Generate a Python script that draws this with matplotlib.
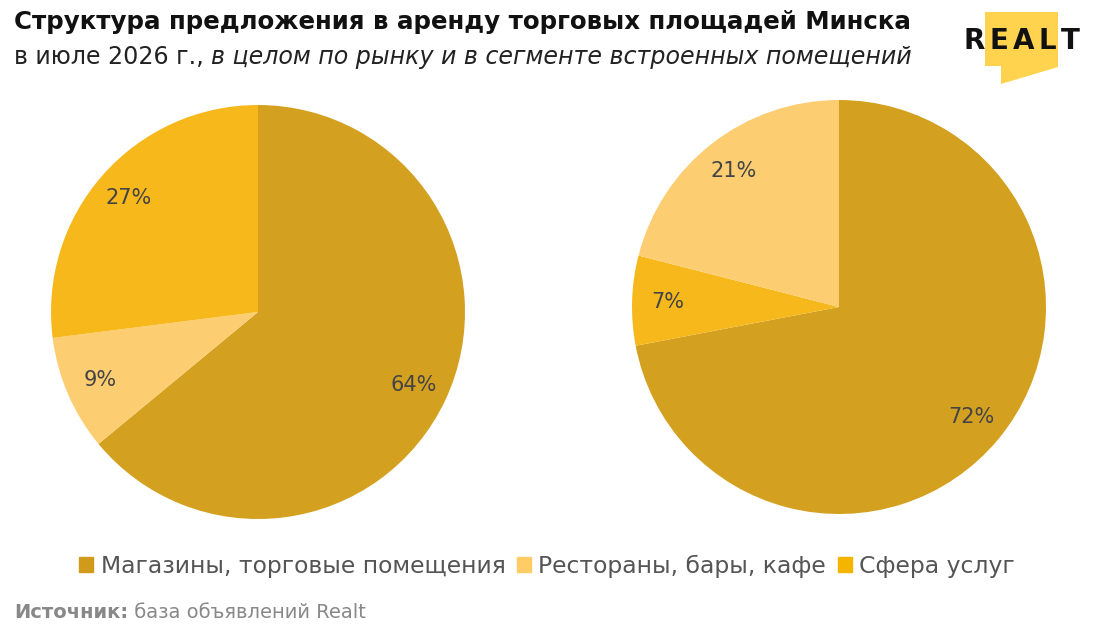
import matplotlib.pyplot as plt
from matplotlib.patches import Polygon

# data
categories = ['Магазины, торговые помещения', 'Рестораны, бары, кафе', 'Сфера услуг']
colors = ['#D4A020', '#FDCD72', '#F7B81B']

# left pie: whole market (order clockwise from top)
left_values = [64, 9, 27]
left_idx = [0, 1, 2]
# right pie: built-in premises
right_values = [72, 7, 21]
right_idx = [0, 2, 1]

plt.rcParams['font.family'] = ['DejaVu Sans']

fig = plt.figure(figsize=(11, 6.36), dpi=100)
W, H = 1100, 636

def px_axes(cx, cy, r):
    return fig.add_axes([(cx - r) / W, 1 - (cy + r) / H, 2 * r / W, 2 * r / H])

def fit_width(txt, width):
    # scale font so the text takes the given pixel width
    fig.canvas.draw()
    w = txt.get_window_extent().width
    txt.set_fontsize(txt.get_fontsize() * width / w)

def draw_pie(ax, values, idx):
    wedges, texts, autotexts = ax.pie(
        values, colors=[colors[i] for i in idx], startangle=90, counterclock=False,
        autopct='%d%%', pctdistance=0.83, wedgeprops={'linewidth': 0},
        textprops={'fontsize': 15, 'color': '#444444'})
    ax.set_aspect('equal')
    ax.set_xlim(-1, 1)
    ax.set_ylim(-1, 1)
    ax.axis('off')

ax1 = px_axes(258, 312, 207)
draw_pie(ax1, left_values, left_idx)
ax2 = px_axes(839, 307, 207)
draw_pie(ax2, right_values, right_idx)

# title and subtitle
title = fig.text(14 / W, 1 - 22 / H, 'Структура предложения в аренду торговых площадей Минска',
                 fontsize=16, fontweight='bold', color='#111111', va='center', ha='left')
fit_width(title, 902)

sub_a = 'в июле 2026 г., '
sub_b = 'в целом по рынку и в сегменте встроенных помещений'
t = fig.text(14 / W, 1 - 57 / H, sub_a, fontsize=14, color='#222222', va='center', ha='left')
t2 = fig.text(0, 1 - 57 / H, sub_b, fontsize=14, style='italic', color='#222222',
              va='center', ha='left')
fig.canvas.draw()
total = t.get_window_extent().width + t2.get_window_extent().width
size = 14 * 902 / total
t.set_fontsize(size)
t2.set_fontsize(size)
fig.canvas.draw()
t2.set_x(t.get_window_extent().x1 / W)

# legend
handles = [plt.Rectangle((0, 0), 1, 1, color=c) for c in ['#D09A1A', '#FFCC66', '#F5B400']]
fig.legend(handles, categories, loc='center', bbox_to_anchor=(547 / W, 1 - 566 / H),
           ncol=3, frameon=False, fontsize=16.9, handlelength=0.6, handleheight=0.6,
           handletextpad=0.3, columnspacing=0.5, labelcolor='#555555')

# source
s = fig.text(14 / W, 1 - 613 / H, 'Источник:', fontsize=14, fontweight='bold',
             color='#888888', va='center', ha='left')
fig.canvas.draw()
bb = s.get_window_extent()
fig.text(bb.x1 / W, 1 - 613 / H, ' база объявлений Realt', fontsize=14,
         color='#888888', va='center', ha='left')

# logo
logo = [(985, 12), (1058, 12), (1058, 67), (1001, 84), (1001, 66), (985, 66)]
fig.add_artist(Polygon([(x / W, 1 - y / H) for x, y in logo], closed=True,
                       transform=fig.transFigure, facecolor='#FFD34E', edgecolor='none'))
letters = [fig.text(0, 1 - 41 / H, ch, fontsize=20, fontweight='heavy', color='#111111',
                    va='center', ha='left') for ch in 'REALT']
fig.canvas.draw()
widths = [l.get_window_extent().width for l in letters]
gap = (117 - sum(widths)) / (len(letters) - 1)
x = 963
for l, w in zip(letters, widths):
    l.set_x(x / W)
    x += w + gap

fig.savefig('out.png', dpi=100)
